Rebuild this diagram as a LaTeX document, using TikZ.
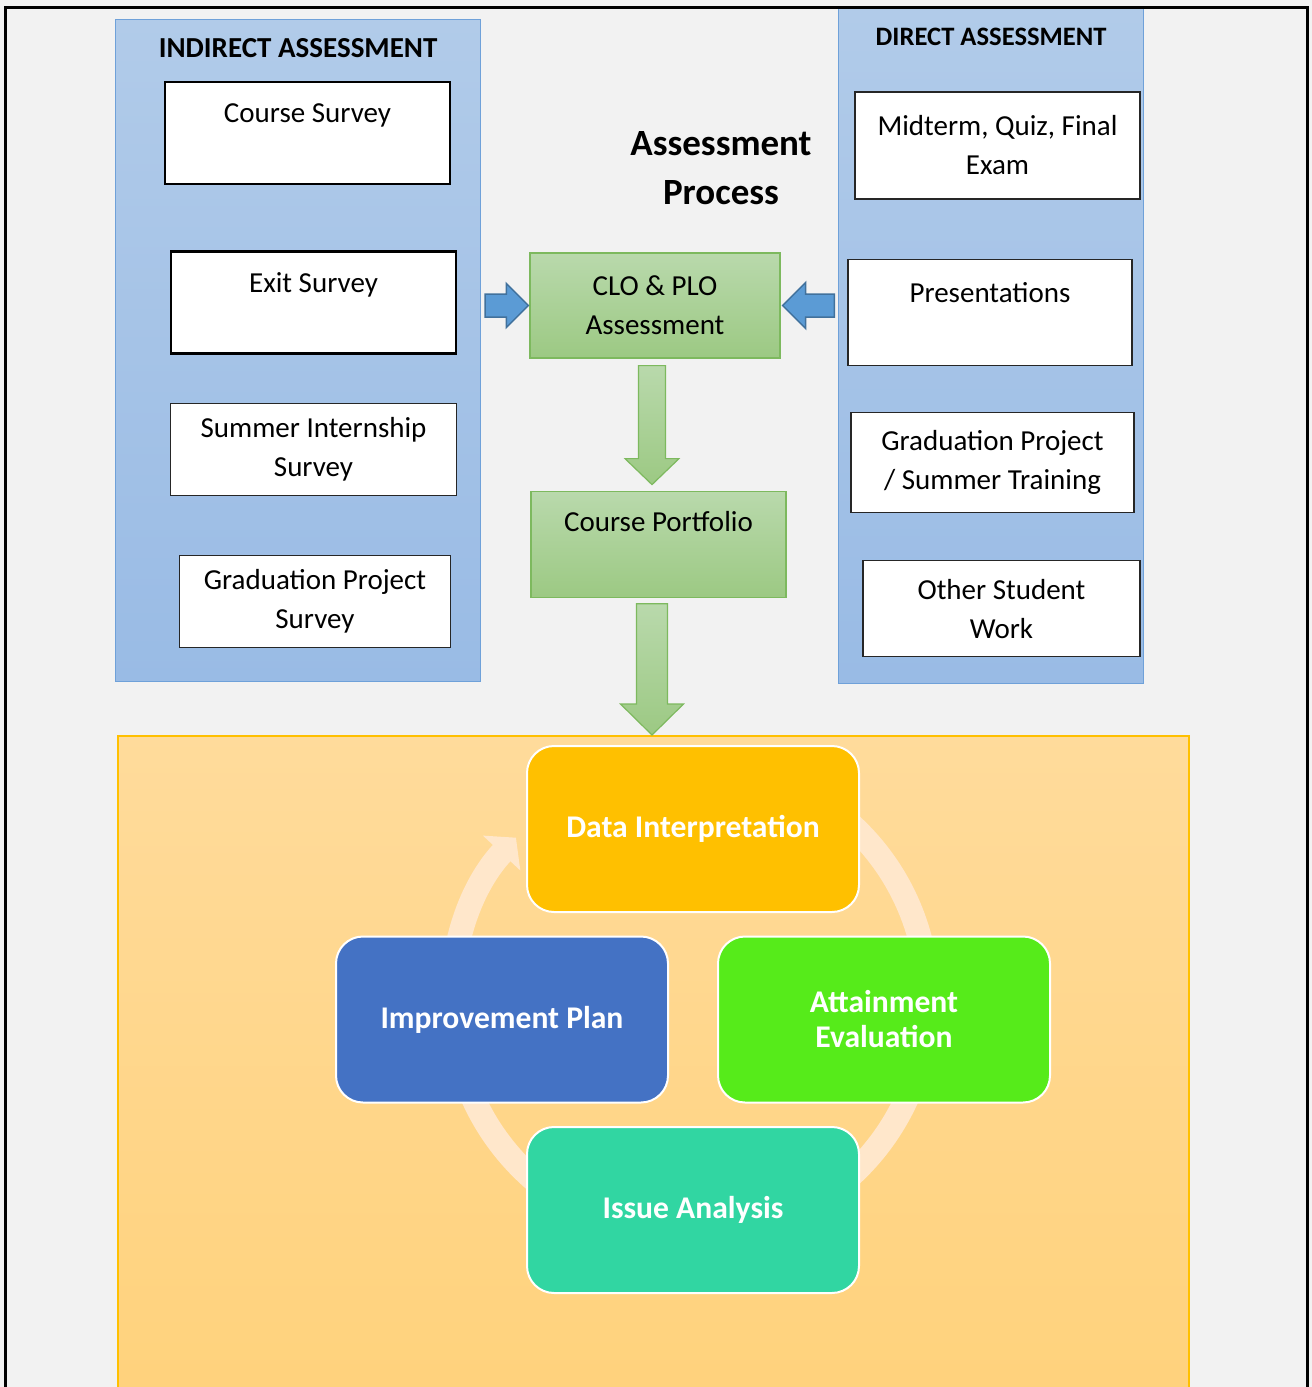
\documentclass[tikz,border=0pt]{standalone}
\usepackage{fontspec}
\setmainfont{Carlito}
\usetikzlibrary{positioning,calc,arrows.meta}

\definecolor{pagegray}{HTML}{F2F2F2}
\definecolor{bluetop}{HTML}{B1CBE9}
\definecolor{bluebottom}{HTML}{99BBE5}
\definecolor{blueedge}{HTML}{6FA1D9}
\definecolor{greentop}{HTML}{B9D9AC}
\definecolor{greenbottom}{HTML}{9CC983}
\definecolor{greenedge}{HTML}{7DB95E}
\definecolor{arrowblue}{HTML}{5B9BD5}
\definecolor{arrowedge}{HTML}{41719C}
\definecolor{orangetop}{HTML}{FFDB9B}
\definecolor{orangebottom}{HTML}{FFD27C}
\definecolor{orangeedge}{HTML}{FFC000}
\definecolor{ringcream}{HTML}{FFE7CB}
\definecolor{datayellow}{HTML}{FFC000}
\definecolor{planblue}{HTML}{4472C4}
\definecolor{attaingreen}{HTML}{56EB1A}
\definecolor{issueteal}{HTML}{31D6A2}

\begin{document}
\begin{tikzpicture}[x=0.5pt,y=0.5pt]
    \tikzset{
        panel/.style = {rectangle, draw=blueedge, top color=bluetop, bottom color=bluebottom, line width=0.6pt, inner sep=0pt, anchor=north west},
        orangepanel/.style = {rectangle, draw=orangeedge, top color=orangetop, bottom color=orangebottom, line width=0.8pt, inner sep=0pt, anchor=north west},
        title/.style = {inner sep=0pt, font=\bfseries\fontsize{14.5}{17}\selectfont},
        bigtitle/.style = {inner sep=0pt, align=center, font=\bfseries\fontsize{18.5}{24.5}\selectfont},
        item/.style = {rectangle, draw=black!85, fill=white, line width=0.6pt, align=center, inner sep=0pt, font=\fontsize{14.5}{19.5}\selectfont},
        heavy/.style = {item, draw=black, line width=1.2pt},
        greenbox/.style = {rectangle, draw=greenedge, top color=greentop, bottom color=greenbottom, line width=0.6pt, align=center, inner sep=0pt, font=\fontsize{14.5}{19.5}\selectfont},
        cyclebox/.style = {rectangle, rounded corners=13.5pt, draw=white, line width=1pt, text=white, align=center, inner sep=0pt, minimum width=166pt, minimum height=83pt, font=\bfseries\fontsize{15.8}{17.5}\selectfont},
        ring/.style = {draw=ringcream, line width=12pt, -{Triangle[length=10.5pt, width=25pt]}},
        blockarrow/.style n args = {3}{to path={
            let \p1 = (\tikztostart), \p2 = (\tikztotarget),
                \n1 = {atan2(\y2-\y1, \x2-\x1)}, \n2 = {veclen(\x2-\x1, \y2-\y1)}
            in {[shift={(\p1)}, rotate=\n1]
                (0pt,-#1) -- ({\n2*1pt-#3},-#1) -- ({\n2*1pt-#3},-#2) -- ({\n2*1pt},0pt)
                -- ({\n2*1pt-#3},#2) -- ({\n2*1pt-#3},#1) -- (0pt,#1) -- cycle}
        }},
        bluearrow/.style = {draw=arrowedge, fill=arrowblue, line width=0.75pt},
        greenarrow/.style = {draw=greenedge, top color=greentop, bottom color=greenbottom, line width=0.6pt},
    }

    \useasboundingbox (0,0) rectangle (1312,-1387);
    \clip (0,0) rectangle (1312,-1387);
    \fill[pagegray] (0,0) rectangle (1312,-1387);

    % indirect column
    \node[panel, minimum width=182.5pt, minimum height=331.25pt](indirect) at (115,-18.5){};
    \node[title](indtitle)[below=10pt of indirect.north]{INDIRECT ASSESSMENT};

    \node[heavy, minimum width=142.5pt, minimum height=51pt](course) at (307.5,-133){Course Survey\\\mbox{}};
    \node[heavy, minimum width=142.5pt, minimum height=51pt](exit)[below=32.5pt of course, xshift=3pt]{Exit Survey\\\mbox{}};
    \node[item, minimum width=143pt, minimum height=46pt](summer)[below=24pt of exit]{Summer Internship\\Survey};
    \node[item, minimum width=135.5pt, minimum height=46pt](gradsurvey)[below=29.5pt of summer, xshift=0.75pt]{Graduation Project\\Survey};

    % direct column
    \node[panel, minimum width=152.5pt, minimum height=337.5pt](direct) at (838,-8){};
    \node[title, font=\bfseries\fontsize{13.3}{16}\selectfont](dirtitle)[below=9.75pt of direct.north]{DIRECT ASSESSMENT};

    \node[item, minimum width=142.5pt, minimum height=53.5pt](midterm) at (997.5,-145.5){Midterm, Quiz, Final\\Exam};
    \node[item, minimum width=142pt, minimum height=53pt](pres)[below=29.5pt of midterm, xshift=-3.75pt]{Presentations\\\mbox{}};
    \node[item, minimum width=141.5pt, minimum height=50pt](gradtrain)[below=23pt of pres, xshift=1.25pt]{Graduation Project\\/ Summer Training};
    \node[item, minimum width=138.5pt, minimum height=48pt](other)[below=23.5pt of gradtrain, xshift=4.5pt]{Other Student\\Work};

    % middle
    \node[bigtitle](process) at (721,-168.5){Assessment\\Process};
    \node[greenbox, minimum width=125pt, minimum height=52.5pt](clo) at (655,-305.5){CLO \& PLO\\Assessment};
    \node[greenbox, minimum width=127.5pt, minimum height=53pt](portfolio)[below=66pt of clo, xshift=1.75pt]{Course Portfolio\\[3pt]\mbox{}};

    % cycle
    \node[orangepanel, minimum width=535.5pt, minimum height=330pt](cyclearea) at (117,-735){};
    \coordinate (ringc) at (690,-1000);
    \coordinate (cyclec) at (693,-1019.5);
    \draw[ring] ($(ringc)+(100:238)$) arc[start angle=100, end angle=-223, radius=238];

    \node[cyclebox, fill=datayellow](data) at ($(cyclec)+(0,190.5)$){Data Interpretation};
    \node[cyclebox, fill=planblue](plan) at ($(cyclec)+(-191,0)$){Improvement Plan};
    \node[cyclebox, fill=attaingreen](attain) at ($(cyclec)+(191,0)$){Attainment\\Evaluation};
    \node[cyclebox, fill=issueteal](issue) at ($(cyclec)+(0,-190.5)$){Issue Analysis};

    % arrows
    \path [bluearrow, blockarrow={5.75pt}{11pt}{11pt}] ($(clo.west -| exit.east)+(28,0)$) to ($(clo.west)+(-1,0)$);
    \path [bluearrow, blockarrow={5.75pt}{11.5pt}{11.5pt}] ($(clo.east -| pres.west)+(-13,0)$) to ($(clo.east)+(2,0)$);
    \path [greenarrow, blockarrow={6.75pt}{13.5pt}{13pt}] ($(clo.south)+(-3,-7)$) to ($(clo.south |- portfolio.north)+(-3,6)$);
    \path [greenarrow, blockarrow={7.75pt}{15.75pt}{15.5pt}] ($(clo.south |- portfolio.south)+(-3,-6)$) to ($(clo.south |- cyclearea.north)+(-3,0)$);

    % frame
    \draw[line width=1.5pt] (5,-1400) -- (5,-7.5) -- (1307.5,-7.5) -- (1307.5,-1400);
\end{tikzpicture}
\end{document}
